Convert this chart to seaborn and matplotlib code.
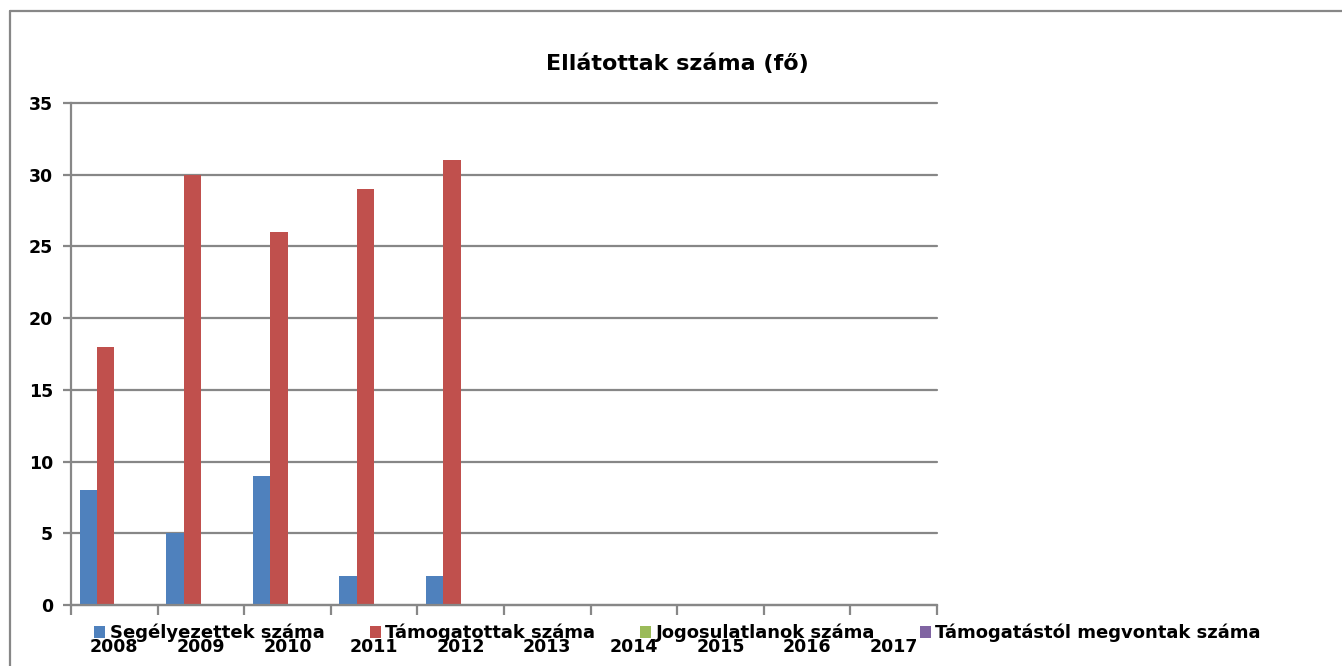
import numpy as np
import pandas as pd
import matplotlib
matplotlib.use("Agg")
from matplotlib import pyplot as plt
from matplotlib.lines import Line2D
import seaborn as sb

# data
years = ['2008', '2009', '2010', '2011', '2012', '2013', '2014', '2015', '2016', '2017']
series = ['Segélyezettek száma', 'Támogatottak száma',
          'Jogosulatlanok száma', 'Támogatástól megvontak száma']
segelyezettek = [8, 5, 9, 2, 2]
tamogatottak = [18, 30, 26, 29, 31]
jogosulatlanok = [0, 0, 0, 0, 0]
megvontak = [0, 0, 0, 0, 0]
colors = ['#4F81BD', '#C0504D', '#9BBB59', '#8064A2']

rows = []
for name, vals in zip(series, [segelyezettek, tamogatottak, jogosulatlanok, megvontak]):
    for y, v in zip(years, vals):
        rows.append({'ev': y, 'sorozat': name, 'fo': v})
df = pd.DataFrame(rows)

sb.set_style('white')
plt.rcParams['font.family'] = ['DejaVu Sans']
plt.rcParams['font.weight'] = 'bold'
plt.rcParams['text.color'] = 'black'
plt.rcParams['xtick.color'] = 'black'
plt.rcParams['ytick.color'] = 'black'

grey = '#878787'
fig = plt.figure(figsize=(13.42, 6.66), dpi=100)
ax = fig.add_axes([71 / 1342, 1 - 605 / 666, (937 - 71) / 1342, (605 - 103) / 666])

sb.barplot(data=df, x='ev', y='fo', hue='sorozat', order=years, hue_order=series,
           palette=colors, width=0.8, linewidth=0, saturation=1, ax=ax)

ax.set_xlim(-0.5, 9.5)
ax.set_ylim(0, 35)
ax.set_yticks(np.arange(0, 36, 5))
ax.set_xticks(np.arange(-0.5, 10, 1), minor=True)
ax.yaxis.grid(True, color=grey, linewidth=1.6)
for gl in ax.get_ygridlines():
    gl.set_clip_on(False)
ax.set_axisbelow(True)
ax.set_xlabel('')
ax.set_ylabel('')
for s in ['top', 'right']:
    ax.spines[s].set_visible(False)
for s in ['left', 'bottom']:
    ax.spines[s].set_color(grey)
    ax.spines[s].set_linewidth(1.6)
ax.tick_params(axis='y', direction='out', length=6, width=1.6, color=grey,
               pad=7, labelsize=12.5, left=True, labelcolor='black')
ax.tick_params(axis='x', which='major', length=0, pad=24, labelsize=12.5, labelcolor='black')
ax.tick_params(axis='x', which='minor', direction='out', length=7, width=1.6,
               color=grey, bottom=True)

handles, labels = ax.get_legend_handles_labels()
ax.get_legend().remove()
fig.legend(handles, labels, loc='center', bbox_to_anchor=(0.505, 1 - 633 / 666),
           ncol=4, frameon=False, fontsize=13, handlelength=0.6, handleheight=0.6,
           handletextpad=0.25, columnspacing=2.5, labelcolor='black')

fig.text(0.505, 1 - 64 / 666, 'Ellátottak száma (fő)', ha='center', va='center',
         fontsize=16, fontweight='bold', color='black')

# outer chart frame
fig.add_artist(Line2D([10 / 1342, 10 / 1342], [0, 1 - 11 / 666], transform=fig.transFigure,
                      color=grey, linewidth=1.6))
fig.add_artist(Line2D([10 / 1342, 1], [1 - 11 / 666, 1 - 11 / 666], transform=fig.transFigure,
                      color=grey, linewidth=1.6))

plt.savefig('out.png', dpi=100)
